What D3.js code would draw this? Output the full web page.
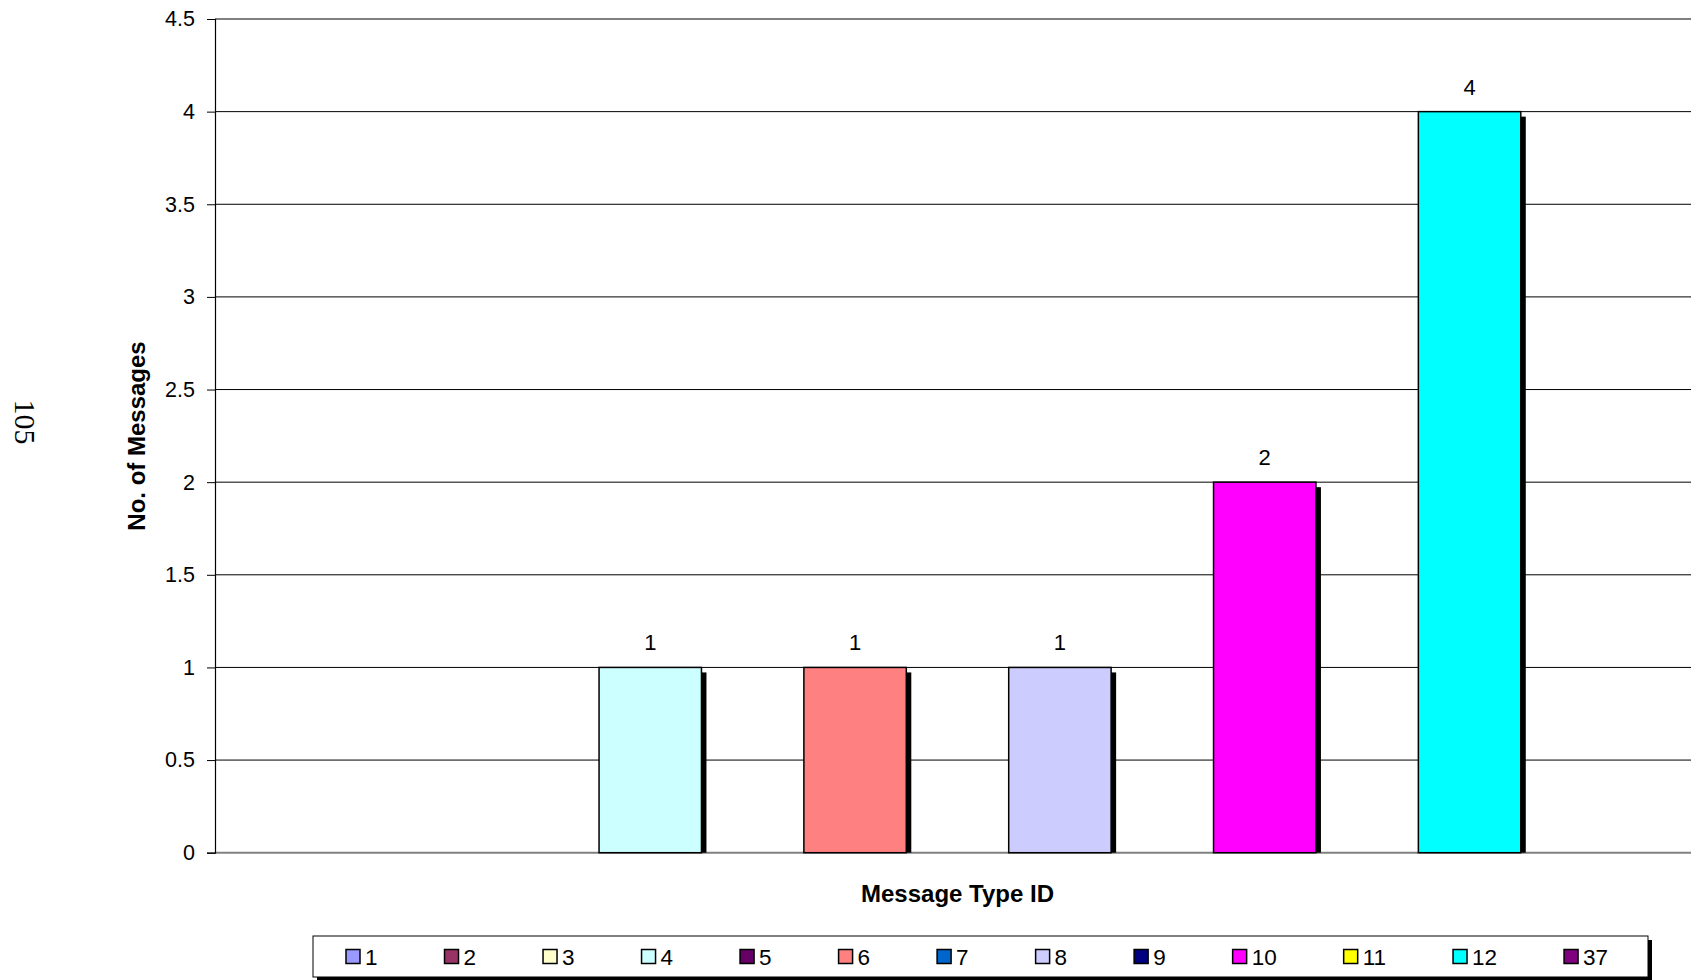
<!DOCTYPE html>
<html>
<head>
<meta charset="utf-8">
<script src="https://cdn.jsdelivr.net/npm/d3@7"></script>
<style>
  html, body { margin: 0; padding: 0; background: #fff; overflow: hidden; }
  svg { display: block; font-family: "Liberation Sans", Arial, sans-serif; }
</style>
</head>
<body>
<div id="chart"></div>
<script>
// series = message type ids, one bar each inside the single category
const seriesIds = ["1", "2", "3", "4", "5", "6", "7", "8", "9", "10", "11", "12", "37"];
const seriesValues = [0, 0, 0, 1, 0, 1, 0, 1, 0, 2, 0, 4, 0];
const seriesColors = ["#9999FF", "#993366", "#FFFFCC", "#CCFFFF", "#660066", "#FF8080",
  "#0066CC", "#CCCCFF", "#000080", "#FF00FF", "#FFFF00", "#00FFFF", "#800080"];
const yTicks = [0, 0.5, 1, 1.5, 2, 2.5, 3, 3.5, 4, 4.5];
const xTitle = "Message Type ID";
const yTitle = "No. of Messages";
const pageNumber = "105";

const W = 1691, H = 980;
const plot = { left: 215, right: 1700, top: 19, bottom: 852.7 };

const svg = d3.select("#chart").append("svg")
  .attr("width", W)
  .attr("height", H);

const y = d3.scaleLinear().domain([0, 4.5]).range([plot.bottom, plot.top]);

// excel style gap width of 150% -> 0.75 band on each side
const x = d3.scaleBand()
  .domain(seriesIds)
  .range([plot.left, plot.right])
  .paddingInner(0)
  .paddingOuter(0.75);

// gridlines
svg.append("g")
  .selectAll("line")
  .data(yTicks)
  .join("line")
  .attr("x1", plot.left)
  .attr("x2", plot.right)
  .attr("y1", d => y(d))
  .attr("y2", d => y(d))
  .attr("stroke", d => (d === 0 || d === 4.5) ? "#808080" : "#000")
  .attr("stroke-width", d => (d === 0 || d === 4.5) ? 2 : 1);

// y axis
const yAxis = d3.axisLeft(y)
  .tickValues(yTicks)
  .tickSize(8)
  .tickPadding(12)
  .tickFormat(d => String(d));

const gy = svg.append("g")
  .attr("transform", `translate(${plot.left},0)`)
  .call(yAxis);
gy.select(".domain").attr("stroke", "#000").attr("stroke-width", 1.2);
gy.selectAll(".tick line").attr("stroke", "#000");
gy.selectAll(".tick text")
  .attr("font-size", 21.5)
  .attr("font-family", "Liberation Sans, Arial, sans-serif")
  .attr("fill", "#000");

// bars with drop shadow
const bars = seriesIds.map((id, i) => ({ id, value: seriesValues[i], color: seriesColors[i] }))
  .filter(d => d.value > 0);

const gBars = svg.append("g");
gBars.selectAll("rect.shadow")
  .data(bars)
  .join("rect")
  .attr("class", "shadow")
  .attr("x", d => x(d.id) + 5)
  .attr("y", d => y(d.value) + 5)
  .attr("width", x.bandwidth())
  .attr("height", d => y(0) - y(d.value) - 5)
  .attr("fill", "#000");

gBars.selectAll("rect.bar")
  .data(bars)
  .join("rect")
  .attr("class", "bar")
  .attr("x", d => x(d.id))
  .attr("y", d => y(d.value))
  .attr("width", x.bandwidth())
  .attr("height", d => y(0) - y(d.value))
  .attr("fill", d => d.color)
  .attr("stroke", "#000")
  .attr("stroke-width", 1.5);

gBars.selectAll("text")
  .data(bars)
  .join("text")
  .attr("x", d => x(d.id) + x.bandwidth() / 2)
  .attr("y", d => y(d.value) - 17)
  .attr("text-anchor", "middle")
  .attr("font-size", 22)
  .attr("fill", "#000")
  .text(d => d.value);

// axis titles
svg.append("text")
  .attr("x", (plot.left + plot.right) / 2)
  .attr("y", 902)
  .attr("text-anchor", "middle")
  .attr("font-size", 24)
  .attr("font-weight", "bold")
  .text(xTitle);

svg.append("text")
  .attr("transform", `translate(145,436) rotate(-90)`)
  .attr("text-anchor", "middle")
  .attr("font-size", 24)
  .attr("font-weight", "bold")
  .text(yTitle);

// page number, printed sideways
svg.append("text")
  .attr("transform", `translate(15,422) rotate(90)`)
  .attr("text-anchor", "middle")
  .attr("font-family", "Liberation Serif, Times New Roman, serif")
  .attr("font-size", 30)
  .text(pageNumber);

// legend
const leg = { x: 313, y: 936, w: 1335, h: 41 };
svg.append("rect")
  .attr("x", leg.x + 4).attr("y", leg.y + 4)
  .attr("width", leg.w).attr("height", leg.h)
  .attr("fill", "#000");
svg.append("rect")
  .attr("x", leg.x).attr("y", leg.y)
  .attr("width", leg.w).attr("height", leg.h)
  .attr("fill", "#fff")
  .attr("stroke", "#000")
  .attr("stroke-width", 1);

const legG = svg.append("g");
let cx = 346;
seriesIds.forEach((id, i) => {
  const item = legG.append("g").attr("transform", `translate(${cx},${leg.y + leg.h / 2})`);
  item.append("rect")
    .attr("x", 0).attr("y", -7)
    .attr("width", 14).attr("height", 14)
    .attr("fill", seriesColors[i])
    .attr("stroke", "#000")
    .attr("stroke-width", 1.5);
  const t = item.append("text")
    .attr("x", 19)
    .attr("y", 8)
    .attr("font-size", 22.5)
    .text(id);
  cx += 86 + t.node().getComputedTextLength();
});
</script>
</body>
</html>
